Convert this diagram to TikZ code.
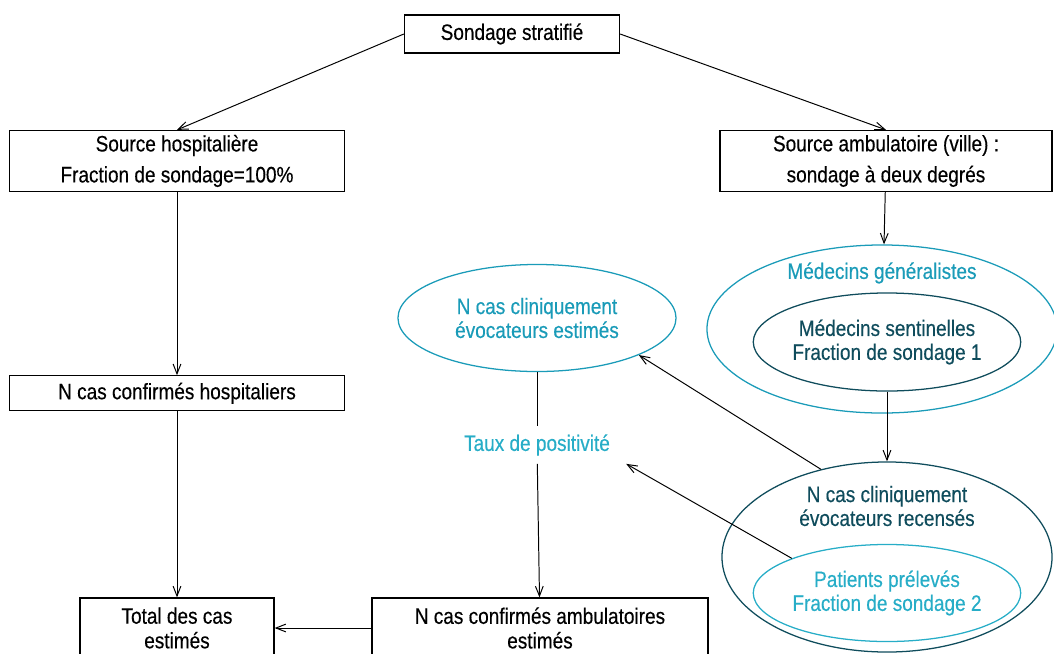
\documentclass[tikz,border=0pt]{standalone}
\usepackage{fontspec}
\setmainfont{Liberation Sans}[FakeStretch=0.85, FakeBold=0.35]
\usetikzlibrary{shapes,arrows,arrows.meta}
\usetikzlibrary{positioning}
\usetikzlibrary{calc}
\definecolor{cyanclair}{HTML}{1A9BB8}
\definecolor{cyanvif}{HTML}{27ADC7}
\definecolor{bleufonce}{HTML}{0F4C5C}

\begin{document}
\begin{tikzpicture}[x=0.025cm, y=-0.025cm, >={Straight Barb[length=7pt, width=5.5pt]}]
 \useasboundingbox (0,0) rectangle (1054,653);
 \clip (0,0) rectangle (1054,653);
 \tikzstyle{B} = [draw, line width=0.9pt, align=center, inner sep=0pt, font=\fontsize{15.9}{22}\selectfont];
 \tikzstyle{E} = [draw, ellipse, line width=0.9pt, align=center, inner sep=0pt, font=\fontsize{15.9}{17}\selectfont];
 \tikzstyle{T} = [align=center, font=\fontsize{15.9}{17}\selectfont];

 % boites
 \node (strat) [B, minimum width=5.375cm, minimum height=0.95cm] at (512,34) {Sondage stratifié};
 \node (hosp) [B, minimum width=8.375cm, minimum height=1.525cm] at (177,161) {Source hospitalière\\Fraction de sondage=100\%};
 \node (ambu) [B, minimum width=8.3cm, minimum height=1.525cm] at (886,161) {Source ambulatoire (ville) :\\sondage à deux degrés};
 \node (confh) [B, minimum width=8.375cm, minimum height=0.875cm, below=4.575cm of hosp] {N cas confirmés hospitaliers};
 \node (total) [B, font=\fontsize{15.9}{17.5}\selectfont, minimum width=4.85cm, minimum height=1.5cm] at (177,628) {Total des cas\\estimés};
 \node (confa) [B, font=\fontsize{15.9}{17.5}\selectfont, minimum width=8.4cm, minimum height=1.5cm] at (540,628) {N cas confirmés ambulatoires\\estimés};

 % ovales
 \node (gen) [E, draw=cyanclair, minimum width=8.75cm, minimum height=4.2cm] at (882,329) {};
 \node (genlbl) [T, text=cyanclair] at (882,273) {Médecins généralistes};
 \node (sent) [E, draw=bleufonce, text=bleufonce, minimum width=5.95cm, minimum height=2.45cm] at (887,342) {Médecins sentinelles\\Fraction de sondage 1};
 \node (rec) [E, draw=bleufonce, minimum width=8.25cm, minimum height=4.75cm] at (887,557) {};
 \node (reclbl) [T, text=bleufonce] at (887,506) {N cas cliniquement\\évocateurs recensés};
 \node (prel) [E, draw=cyanvif, text=cyanvif, minimum width=5.9cm, minimum height=2.425cm] at (887,593) {Patients prélevés\\Fraction de sondage 2};
 \node (estim) [E, draw=cyanclair, text=cyanclair, minimum width=6.95cm, minimum height=2.675cm] at (537,318) {N cas cliniquement\\évocateurs estimés};
 \node (taux) [T, text=cyanvif, inner xsep=0.4cm, inner ysep=0.2cm] at (537,445) {Taux de positivité};

 \tikzstyle{L} = [color=black, line width=0.7pt];

 \draw [->, L] (strat.west) -- (hosp.north);
 \draw [->, L] (strat.east) -- (ambu.north);
 \draw [->, L] (hosp) -- (confh);
 \draw [->, L] (confh) -- (total);
 \draw [->, L] (ambu) -- (gen);
 \draw [->, L] (sent) -- (rec);
 \draw [->, L] (rec.127) -- (estim.-20);
 \draw [->, L] (prel.160) -- (taux.south east);
 \draw [L] (estim) -- (taux);
 \draw [->, L] (taux) -- (confa);
 \draw [->, L] (confa) -- (total);

\end{tikzpicture}
\end{document}
